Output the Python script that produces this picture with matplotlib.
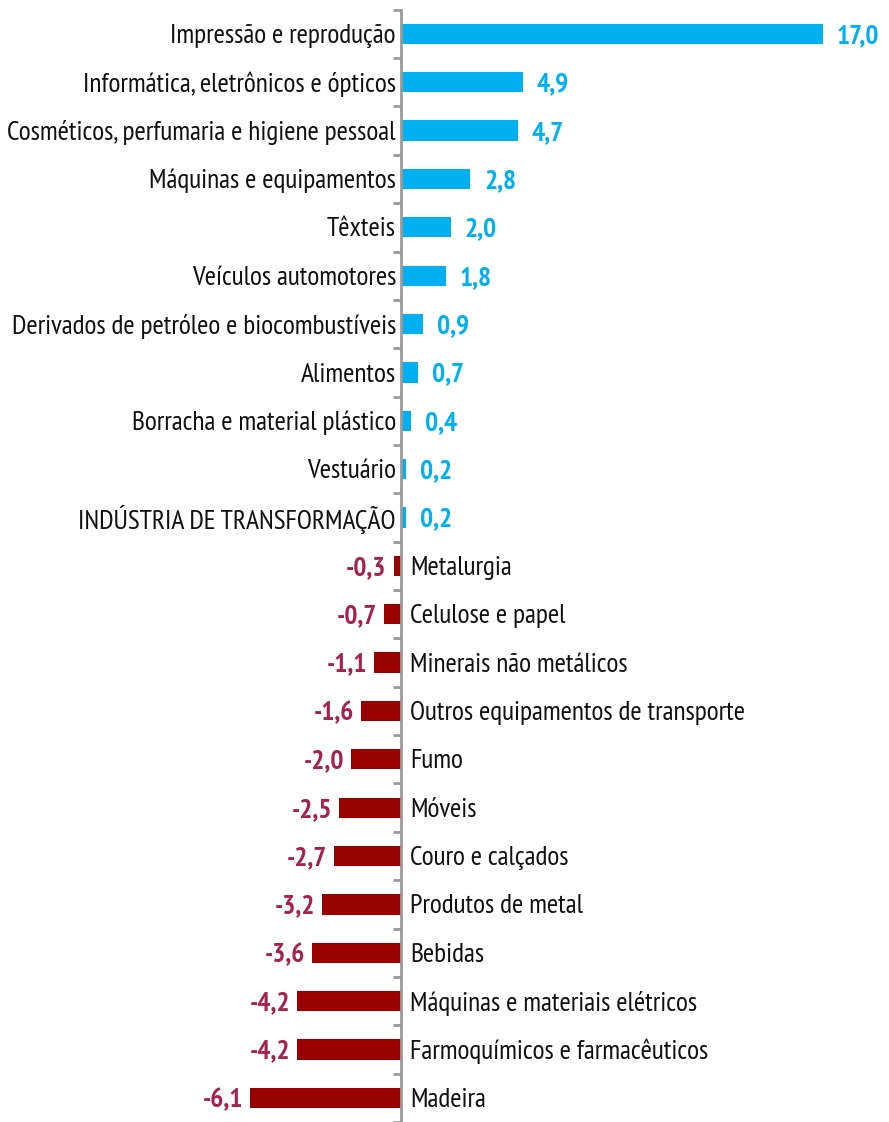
import matplotlib
matplotlib.use("Agg")
import matplotlib.pyplot as plt
from matplotlib import font_manager as fm

categories = [
    "Impressão e reprodução",
    "Informática, eletrônicos e ópticos",
    "Cosméticos, perfumaria e higiene pessoal",
    "Máquinas e equipamentos",
    "Têxteis",
    "Veículos automotores",
    "Derivados de petróleo e biocombustíveis",
    "Alimentos",
    "Borracha e material plástico",
    "Vestuário",
    "INDÚSTRIA DE TRANSFORMAÇÃO",
    "Metalurgia",
    "Celulose e papel",
    "Minerais não metálicos",
    "Outros equipamentos de transporte",
    "Fumo",
    "Móveis",
    "Couro e calçados",
    "Produtos de metal",
    "Bebidas",
    "Máquinas e materiais elétricos",
    "Farmoquímicos e farmacêuticos",
    "Madeira",
]
values = [17.0, 4.9, 4.7, 2.8, 2.0, 1.8, 0.9, 0.7, 0.4, 0.2, 0.2,
          -0.3, -0.7, -1.1, -1.6, -2.0, -2.5, -2.7, -3.2, -3.6, -4.2, -4.2, -6.1]

names = {f.name for f in fm.fontManager.ttflist}
family = ["PT Sans Narrow", "DejaVu Sans"] if "PT Sans Narrow" in names else ["DejaVu Sans"]

BLUE = "#00B0F0"
RED_BAR = "#990000"
RED_TXT = "#A3224E"
GRAY = "#9A9A9A"

W, H = 889, 1122
fig = plt.figure(figsize=(W / 100, H / 100), dpi=100)
ax = fig.add_axes([0, 0, 1, 1])

ppu = 24.8
x0 = 401
ax.set_xlim(-x0 / ppu, (W - x0) / ppu)
row0, step = 34, 48.5
ax.set_ylim((H - row0) / step, -row0 / step)

ys = list(range(len(categories)))
colors = [BLUE if v > 0 else RED_BAR for v in values]
ax.barh(ys, values, height=0.42, color=colors, zorder=2)

fs = 19.8
dy = -1.5
for y, v, c in zip(ys, values, categories):
    lab = f"{v:.1f}".replace(".", ",")
    if v > 0:
        ax.annotate(c, (0, y), xytext=(-3.6, dy), textcoords="offset points",
                    ha="right", va="center", fontsize=fs, family=family, color="#111111")
        ax.annotate(lab, (v, y), xytext=(10, dy), textcoords="offset points",
                    ha="left", va="center", fontsize=fs, family=family, color=BLUE,
                    fontweight="bold")
    else:
        ax.annotate(c, (0, y), xytext=(6.5, dy), textcoords="offset points",
                    ha="left", va="center", fontsize=fs, family=family, color="#111111")
        ax.annotate(lab, (v, y), xytext=(-5, dy), textcoords="offset points",
                    ha="right", va="center", fontsize=fs, family=family, color=RED_TXT,
                    fontweight="bold")

for s in ["top", "right", "bottom"]:
    ax.spines[s].set_visible(False)
ax.spines["left"].set_position(("data", 0))
ax.spines["left"].set_color(GRAY)
ax.spines["left"].set_linewidth(2)
ax.spines["left"].set_bounds(-0.5, len(categories))
ax.set_yticks([i - 0.5 for i in range(len(categories) + 1)])
ax.set_yticklabels([])
ax.tick_params(axis="y", direction="out", length=6, width=2, color=GRAY)
ax.set_xticks([])
ax.patch.set_alpha(0)

fig.savefig("out.png", dpi=100)
